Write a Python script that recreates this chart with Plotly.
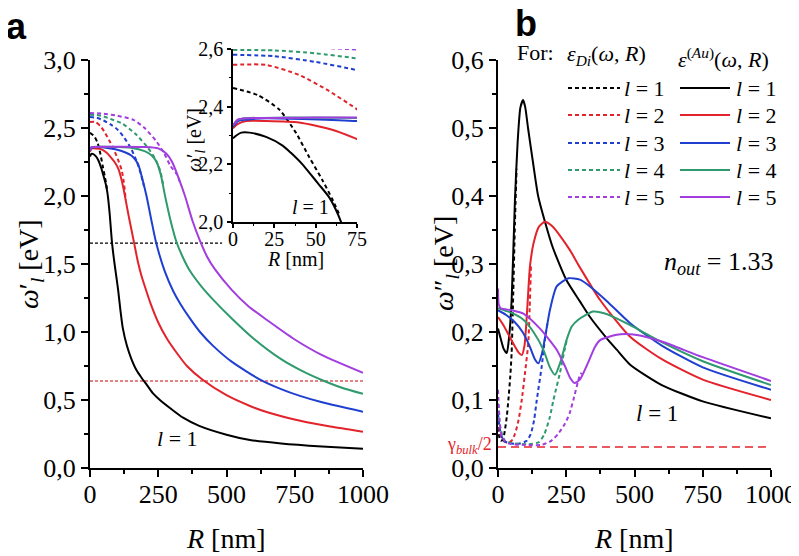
import plotly.graph_objects as go

# the page body has an 8 px margin, so the figure is 16 px smaller than the window
OFF = 8
W, H = 799 - OFF, 556 - OFF

# ---------------- data: panel a (real part), also used in the inset ----------------
Ra_au1 = [0, 2, 5, 10, 20, 30, 35, 42, 47, 52, 58, 62, 66, 72, 81, 90, 103, 112, 120, 135, 150, 170, 190, 205, 230, 256, 300, 341, 400, 500, 586, 700, 850, 1000]
wa_au1 = [2.29, 2.30, 2.31, 2.31, 2.295, 2.265, 2.24, 2.2, 2.165, 2.13, 2.087, 2.045, 1.99, 1.87, 1.65, 1.5, 1.31, 1.15, 1.03, 0.9, 0.81, 0.72, 0.66, 0.62, 0.55, 0.5, 0.43, 0.37, 0.31, 0.245, 0.206, 0.18, 0.158, 0.142]
Ra_au2 = [0, 3, 8, 20, 40, 60, 74, 90, 104, 118, 128, 140, 150, 162, 175, 189, 205, 220, 250, 282, 320, 355, 415, 500, 586, 650, 770, 880, 1000]
wa_au2 = [2.325, 2.34, 2.35, 2.35, 2.345, 2.32, 2.29, 2.25, 2.2, 2.1, 2.0, 1.87, 1.77, 1.65, 1.52, 1.41, 1.31, 1.22, 1.07, 0.95, 0.84, 0.75, 0.645, 0.535, 0.456, 0.41, 0.347, 0.305, 0.267]
Ra_au3 = [0, 3, 8, 20, 75, 100, 130, 150, 165, 177, 190, 207, 225, 243, 275, 305, 330, 366, 403, 450, 520, 623, 700, 769, 850, 1000]
wa_au3 = [2.33, 2.35, 2.355, 2.36, 2.35, 2.34, 2.32, 2.3, 2.27, 2.23, 2.14, 2.0, 1.82, 1.65, 1.44, 1.3, 1.21, 1.1, 1.0, 0.9, 0.78, 0.65, 0.58, 0.53, 0.483, 0.414]
Ra_au4 = [0, 3, 8, 30, 100, 150, 200, 225, 244, 260, 275, 295, 317, 340, 366, 410, 450, 524, 600, 700, 780, 849, 920, 1000]
wa_au4 = [2.335, 2.355, 2.36, 2.362, 2.36, 2.355, 2.33, 2.3, 2.25, 2.15, 2.0, 1.82, 1.66, 1.55, 1.45, 1.33, 1.24, 1.09, 0.95, 0.8, 0.71, 0.647, 0.592, 0.545]
Ra_au5 = [0, 3, 8, 50, 200, 250, 280, 301, 325, 348, 375, 403, 430, 458, 519, 580, 647, 750, 850, 1000]
wa_au5 = [2.335, 2.355, 2.36, 2.362, 2.36, 2.35, 2.31, 2.25, 2.13, 2.0, 1.82, 1.67, 1.55, 1.46, 1.31, 1.19, 1.09, 0.945, 0.83, 0.70]

Ra_di1 = [0, 15, 28, 38, 46, 54, 60, 64]
wa_di1 = [2.465, 2.44, 2.39, 2.31, 2.226, 2.146, 2.08, 2.03]
Ra_di2 = [0, 20, 40, 57, 74, 90, 104, 116, 124, 131]
wa_di2 = [2.545, 2.545, 2.51, 2.458, 2.395, 2.33, 2.26, 2.19, 2.1, 1.97]
Ra_di3 = [0, 25, 50, 74, 100, 125, 150, 170, 185, 198]
wa_di3 = [2.58, 2.575, 2.555, 2.528, 2.49, 2.43, 2.35, 2.26, 2.17, 2.07]
Ra_di4 = [0, 25, 50, 74, 120, 170, 210, 240, 258, 268]
wa_di4 = [2.597, 2.595, 2.585, 2.568, 2.53, 2.45, 2.36, 2.27, 2.18, 2.08]
Ra_di5 = [0, 50, 100, 159, 200, 240, 270, 295, 318, 333]
wa_di5 = [2.61, 2.605, 2.59, 2.56, 2.5, 2.41, 2.32, 2.22, 2.16, 2.08]

# ---------------- data: panel b (imaginary part) ----------------
Rb_au1 = [0, 10, 20, 32, 40, 50, 62, 72, 82, 92, 100, 110, 128, 147, 172, 200, 251, 300, 337, 400, 435, 484, 600, 750, 1000]
wb_au1 = [0.205, 0.19, 0.176, 0.169, 0.19, 0.247, 0.394, 0.48, 0.53, 0.541, 0.53, 0.5, 0.45, 0.4, 0.362, 0.325, 0.276, 0.245, 0.222, 0.19, 0.174, 0.152, 0.122, 0.098, 0.073]
Rb_au2 = [0, 20, 40, 60, 75, 87, 97, 108, 117, 130, 150, 172, 200, 230, 264, 300, 374, 484, 600, 750, 1000]
wb_au2 = [0.222, 0.21, 0.195, 0.18, 0.17, 0.166, 0.18, 0.24, 0.296, 0.33, 0.355, 0.362, 0.355, 0.34, 0.32, 0.295, 0.247, 0.193, 0.16, 0.13, 0.1]
Rb_au3 = [0, 30, 60, 90, 115, 135, 148, 162, 178, 190, 215, 258, 300, 337, 400, 484, 600, 750, 1000]
wb_au3 = [0.232, 0.225, 0.215, 0.2, 0.18, 0.16, 0.154, 0.17, 0.205, 0.232, 0.267, 0.279, 0.277, 0.267, 0.245, 0.213, 0.18, 0.148, 0.115]
Rb_au4 = [0, 50, 93, 130, 166, 190, 209, 228, 251, 270, 294, 349, 400, 484, 600, 750, 1000]
wb_au4 = [0.235, 0.228, 0.218, 0.2, 0.174, 0.148, 0.137, 0.155, 0.188, 0.208, 0.218, 0.23, 0.226, 0.21, 0.185, 0.157, 0.122]
Rb_au5 = [0, 3, 10, 50, 93, 154, 185, 215, 245, 265, 280, 300, 330, 355, 374, 435, 470, 520, 600, 750, 1000]
wb_au5 = [0.264, 0.24, 0.235, 0.232, 0.227, 0.205, 0.19, 0.174, 0.15, 0.132, 0.125, 0.13, 0.155, 0.178, 0.188, 0.196, 0.197, 0.195, 0.186, 0.163, 0.128]

Rb_di1 = [0, 5, 10, 18, 25, 32, 38, 45, 50, 56, 62, 68]
wb_di1 = [0.06, 0.045, 0.04, 0.042, 0.055, 0.075, 0.1, 0.135, 0.17, 0.26, 0.36, 0.44]
Rb_di2 = [0, 8, 20, 35, 50, 62, 75, 87, 99, 111, 116, 121]
wb_di2 = [0.07, 0.05, 0.04, 0.037, 0.04, 0.05, 0.07, 0.1, 0.14, 0.184, 0.235, 0.3]
Rb_di3 = [0, 8, 20, 50, 80, 105, 120, 132, 142, 160, 172, 182]
wb_di3 = [0.08, 0.055, 0.04, 0.036, 0.036, 0.04, 0.05, 0.07, 0.1, 0.149, 0.19, 0.215]
Rb_di4 = [0, 8, 25, 60, 110, 150, 170, 190, 203, 227, 243, 253]
wb_di4 = [0.095, 0.06, 0.04, 0.036, 0.035, 0.038, 0.05, 0.075, 0.1, 0.14, 0.172, 0.19]
Rb_di5 = [0, 6, 15, 40, 100, 160, 195, 220, 245, 262, 276, 298, 306]
wb_di5 = [0.115, 0.07, 0.045, 0.036, 0.034, 0.034, 0.04, 0.05, 0.065, 0.08, 0.1, 0.134, 0.14]

# reference levels
level_a_black = 1.654
level_a_black_end = 484
level_a_red = 0.64
gamma_half = 0.031
R_span = [0, 1000]

# ticks
xa_ticks = [0, 250, 500, 750, 1000]
xa_minor = [125, 375, 625, 875]
ya_ticks = [0.0, 0.5, 1.0, 1.5, 2.0, 2.5, 3.0]
ya_labels = ["0,0", "0,5", "1,0", "1,5", "2,0", "2,5", "3,0"]
ya_minor = [0.25, 0.75, 1.25, 1.75, 2.25, 2.75]
yb_ticks = [0.0, 0.1, 0.2, 0.3, 0.4, 0.5, 0.6]
yb_labels = ["0,0", "0,1", "0,2", "0,3", "0,4", "0,5", "0,6"]
yb_minor = [0.05, 0.15, 0.25, 0.35, 0.45, 0.55]
xi_ticks = [0, 25, 50, 75]
xi_minor = [12.5, 37.5, 62.5]
yi_ticks = [2.0, 2.2, 2.4, 2.6]
yi_labels = ["2,0", "2,2", "2,4", "2,6"]
yi_minor = [2.1, 2.3, 2.5]

modes = [1, 2, 3, 4, 5]
colors = ["#000000", "#e3232b", "#1f3fd1", "#2e9a6d", "#a23de0"]

a_au = [(Ra_au1, wa_au1), (Ra_au2, wa_au2), (Ra_au3, wa_au3), (Ra_au4, wa_au4), (Ra_au5, wa_au5)]
a_di = [(Ra_di1, wa_di1), (Ra_di2, wa_di2), (Ra_di3, wa_di3), (Ra_di4, wa_di4), (Ra_di5, wa_di5)]
b_au = [(Rb_au1, wb_au1), (Rb_au2, wb_au2), (Rb_au3, wb_au3), (Rb_au4, wb_au4), (Rb_au5, wb_au5)]
b_di = [(Rb_di1, wb_di1), (Rb_di2, wb_di2), (Rb_di3, wb_di3), (Rb_di4, wb_di4), (Rb_di5, wb_di5)]

SERIF = "Liberation Serif"
DASH = "4px,3px"

fig = go.Figure()


def add(R, w, color, xa, ya, dash=None, width=2.0, spline=True):
    fig.add_trace(go.Scatter(
        x=R, y=w, mode="lines", xaxis=xa, yaxis=ya, hoverinfo="skip", showlegend=False,
        line=dict(color=color, width=width, dash=dash,
                  shape="spline" if spline else "linear", smoothing=0.6)))


# reference lines
add([0, level_a_black_end], [level_a_black] * 2, "#000000", "x", "y", dash="3px,2px", width=1.2, spline=False)
add(R_span, [level_a_red] * 2, "#e05a5a", "x", "y", dash="3px,2px", width=1.5, spline=False)
add(R_span, [gamma_half] * 2, "#e3232b", "x2", "y2", dash="8px,5px", width=1.5, spline=False)

for (xa, ya) in [("x", "y"), ("x3", "y3")]:
    for c, (R, w) in zip(colors, a_di):
        add(R, w, c, xa, ya, dash=DASH)
    for c, (R, w) in zip(colors, a_au):
        add(R, w, c, xa, ya)
for c, (R, w) in zip(colors, b_di):
    add(R, w, c, "x2", "y2", dash=DASH)
for c, (R, w) in zip(colors, b_au):
    add(R, w, c, "x2", "y2")


def px(x):
    return (x - OFF) / W


def py(y):
    return 1 - (y - OFF) / H


def axis(domain, rng, anchor, tickvals, ticktext, minor, size, ticklen=7, lw=2, standoff=0):
    return dict(domain=domain, range=rng, anchor=anchor, showline=True, linecolor="black",
                linewidth=lw, ticks="outside", ticklen=ticklen, tickwidth=lw, tickcolor="black",
                tickmode="array", tickvals=tickvals, ticktext=ticktext, automargin=False,
                ticklabelstandoff=standoff,
                tickfont=dict(family=SERIF, size=size, color="black"),
                minor=dict(tickmode="array", tickvals=minor, ticks="outside", ticklen=ticklen * 0.55,
                           tickwidth=lw * 0.8, tickcolor="black"),
                showgrid=False, zeroline=False, fixedrange=True)


fig.update_layout(
    width=W, height=H, margin=dict(l=0, r=0, t=0, b=0, pad=0, autoexpand=False),
    paper_bgcolor="white", plot_bgcolor="rgba(0,0,0,0)", showlegend=False,
    font=dict(family=SERIF, color="black"),
    xaxis=axis([px(90), px(363)], [0, 1000], "y", xa_ticks, [str(v) for v in xa_ticks], xa_minor, 26, standoff=-5),
    yaxis=axis([py(468), py(60)], [0, 3], "x", ya_ticks, ya_labels, ya_minor, 26),
    xaxis2=axis([px(498), px(771)], [0, 1000], "y2", xa_ticks, [str(v) for v in xa_ticks], xa_minor, 26, standoff=-5),
    yaxis2=axis([py(468), py(60)], [0, 0.6], "x2", yb_ticks, yb_labels, yb_minor, 26),
    xaxis3=axis([px(233), px(357)], [0, 75], "y3", xi_ticks, [str(v) for v in xi_ticks], xi_minor, 20, ticklen=4, lw=1.5, standoff=-6),
    yaxis3=axis([py(222), py(49)], [2.0, 2.6], "x3", yi_ticks, yi_labels, yi_minor, 20, ticklen=4, lw=1.5),
)

ann = []


def text(x, y, s, size, color="black", angle=0, family=SERIF, xanchor="center"):
    ann.append(dict(x=px(x), y=py(y), xref="paper", yref="paper", text=s, showarrow=False,
                    font=dict(family=family, size=size, color=color), textangle=angle,
                    xanchor=xanchor, yanchor="middle"))


omega1 = "<i>ω</i>′<sub><i>l</i></sub> [eV]"
omega2 = "<i>ω</i>″<sub><i>l</i></sub> [eV]"
text(16, 26, "<b>a</b>", 36, family="Liberation Sans")
text(526, 24, "<b>b</b>", 36, family="Liberation Sans")
text(30, 264, omega1, 28, angle=-90)
text(445, 264, omega2, 28, angle=-90)
text(226, 538, "<i>R</i> [nm]", 28)
text(634, 538, "<i>R</i> [nm]", 28)
text(195, 140, omega1, 20, angle=-90)
text(295, 259, "<i>R</i> [nm]", 20)
text(310, 207, "<i>l</i> = 1", 20)
text(177, 438, "<i>l</i> = 1", 22)
text(657, 413, "<i>l</i> = 1", 23)
text(718, 263, "<i>n</i><sub><i>out</i></sub> = 1.33", 26)
text(494, 445, "γ<sub><i>bulk</i></sub>/2", 18, color="#e3232b", xanchor="right")

text(535, 53, "For:", 22)
text(606, 55, "<i>ε</i><sub><i>Di</i></sub>(<i>ω</i>, <i>R</i>)", 22)
text(723, 58, "<i>ε</i><sup>(<i>Au</i>)</sup>(<i>ω</i>, <i>R</i>)", 22)

shapes = []
row_y = [88, 115, 143, 170, 197]
for l, c, yy in zip(modes, colors, row_y):
    shapes.append(dict(type="line", xref="paper", yref="paper", x0=px(568), x1=px(620), y0=py(yy), y1=py(yy),
                       line=dict(color=c, width=2, dash=DASH)))
    shapes.append(dict(type="line", xref="paper", yref="paper", x0=px(680), x1=px(730), y0=py(yy), y1=py(yy),
                       line=dict(color=c, width=2)))
    text(644, yy, f"<i>l</i> = {l}", 22)
    text(756, yy, f"<i>l</i> = {l}", 22)

fig.update_layout(annotations=ann, shapes=shapes)
fig.write_html("out.html")
